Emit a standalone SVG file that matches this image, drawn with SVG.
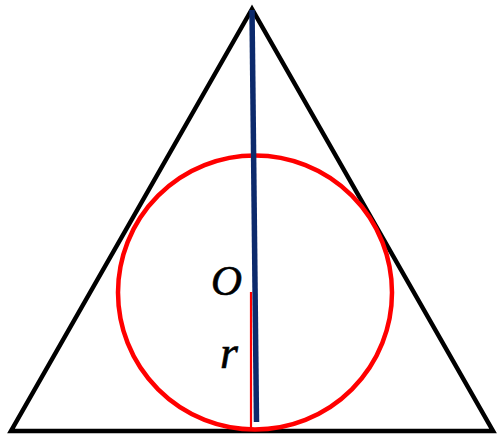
<svg xmlns="http://www.w3.org/2000/svg" width="500" height="435" viewBox="0 0 500 435">
<style>
.lbl{font-family:"Liberation Serif","Times New Roman",serif;font-style:italic;fill:#000;stroke:#000;stroke-width:0.6}
</style>
<rect width="500" height="435" fill="#fff"/>
<g id="triangle"><polygon points="252,9 11,431 493,431" fill="none" stroke="#000" stroke-width="4.5" stroke-linejoin="miter"/></g>
<g id="circle"><circle cx="255" cy="292.5" r="137" fill="none" stroke="#ff0000" stroke-width="4.5"/></g>
<g id="connectors">
<line x1="251" y1="292" x2="251" y2="429" stroke="#ff0000" stroke-width="2.2"/>
<line x1="252" y1="10" x2="256.5" y2="422" stroke="#0c2a6c" stroke-width="5.5"/>
</g>
<g id="labels">
<text class="lbl" x="211" y="295" font-size="43">O</text>
<text class="lbl" x="220" y="368" font-size="46">r</text>
</g>
</svg>
